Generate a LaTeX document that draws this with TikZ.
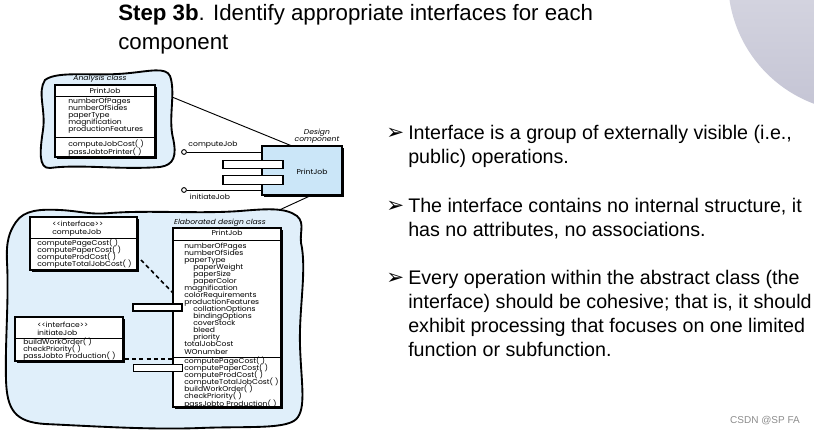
\documentclass[tikz,border=0pt]{standalone}
\usepackage{fontspec}
\setmainfont{Liberation Sans}
\newfontfamily\umlfont[FakeStretch=1.08]{Poppins}
\newfontfamily\markfont{DejaVu Sans}
\usetikzlibrary{shadows}

\definecolor{blobblue}{RGB}{224,239,250}
\definecolor{compblue}{RGB}{203,230,248}
\definecolor{discgray}{RGB}{196,196,212}
\newcommand{\umlsize}{\umlfont\fontsize{5.3}{5.3}\selectfont\lineskiplimit=-6pt}

\tikzset{
  blob/.style={draw=black, line width=1.4pt, fill=blobblue},
  umlbox/.style={draw=black, line width=0.9pt, fill=white, inner sep=0pt, outer sep=0pt,
    drop shadow={opacity=1, fill=black, shadow xshift=1.3pt, shadow yshift=-1.3pt}},
  port/.style={draw=black, line width=1pt, fill=white, inner sep=0pt,
    minimum width=45pt, minimum height=6.4pt},
  uml/.style={font=\umlsize, inner sep=0pt},
  umlnote/.style={font=\umlsize\itshape, inner sep=0pt},
  lolli/.style={circle, draw=black, line width=0.7pt, fill=white, inner sep=0pt, minimum size=3.6pt},
  link/.style={line width=0.7pt},
  dashlink/.style={line width=1.2pt, dash pattern=on 3pt off 2.4pt},
  point/.style={font=\fontsize{14.75}{18}\selectfont, inner sep=0pt, anchor=base west, align=left},
  pointmark/.style={font=\markfont\fontsize{16}{16}\selectfont, inner sep=0pt, anchor=base west}
}

\begin{document}
\begin{tikzpicture}[x=0.75pt,y=-0.75pt]
\useasboundingbox (0,0) rectangle (814,435);

%Shape: Circle (corner disc)
\shade[top color=discgray!40, bottom color=discgray] (860,-20) circle (132);

% Text Node
\node[inner sep=0pt, anchor=base west, align=left, font=\fontsize{16.7}{21.75}\selectfont] (title) at (118,50)
  {\textbf{Step 3b}. Identify appropriate interfaces for each\\component};

%Shape: Polygon Curved (analysis blob)
\draw[blob] (45,80) .. controls (58,70) and (95,77) .. (130,73) .. controls (150,71) and (166,67) .. (170,76)
  .. controls (176,92) and (168,118) .. (173,138) .. controls (177,156) and (174,165) .. (160,167)
  .. controls (120,170) and (80,164) .. (50,168) .. controls (38,169) and (40,150) .. (43,130)
  .. controls (46,110) and (37,92) .. (45,80) -- cycle;

% Text Node
\node[umlnote] (anaLabel) at (100,79) {Analysis class};
\node[umlbox, minimum width=75pt, minimum height=54pt] (anaBox) at (105,121) {};
\draw[line width=0.6pt] (55,96) -- (155,96);
\draw[line width=0.6pt] (55,137) -- (155,137);
\node[uml] (anaName) at (105,91) {PrintJob};
\node[uml, anchor=base west, align=left] (anaAttr) at (68,132)
  {numberOfPages\\numberOfSides\\paperType\\magnification\\productionFeatures};
\node[uml, anchor=base west, align=left] (anaOps) at (68,154)
  {computeJobCost( )\\passJobtoPrinter( )};

%Shape: Rectangle (design component)
\node[umlbox, fill=compblue, minimum width=60pt, minimum height=36.75pt] (compBox) at (302,170.5) {};
\node[port] (compPortA) at (253,164.5) {};
\node[port] (compPortB) at (253,180) {};
\node[uml] (compName) at (312,172) {PrintJob};
\node[umlnote, align=center, anchor=base] (compLabel) at (317,142) {Design\\component};

% Lollipops
\node[lolli] (cjBall) at (184,152) {};
\node[lolli] (ijBall) at (184,190) {};
\draw[link] (cjBall) -- (compBox.west |- cjBall);
\draw[link] (ijBall) -- (compBox.west |- ijBall);
\node[uml] (cjLabel) at (213,145) {computeJob};
\node[uml] (ijLabel) at (210,197) {initiateJob};

%Straight Lines
\coordinate (anaTip) at (172,97);
\coordinate (compTop) at (292,146);
\draw[link] (anaTip) -- (compTop);
\coordinate (compFoot) at (312,195);
\coordinate (elabTop) at (275,212);
\draw[link] (compFoot) -- (elabTop);

%Shape: Polygon Curved (elaborated blob)
\draw[blob] (16,222) .. controls (24,210) and (40,209) .. (60,210) .. controls (80,211) and (90,215) .. (110,213)
  .. controls (150,210) and (200,214) .. (240,211) .. controls (265,209) and (285,207) .. (297,216)
  .. controls (306,224) and (298,234) .. (302,248) .. controls (306,275) and (299,310) .. (300,345)
  .. controls (301,380) and (306,405) .. (298,417) .. controls (290,430) and (250,426) .. (200,428)
  .. controls (150,430) and (90,426) .. (45,424) .. controls (15,422) and (7,410) .. (6,380)
  .. controls (5,340) and (9,300) .. (7,262) .. controls (6,242) and (9,232) .. (16,222) -- cycle;

% Text Node
\node[umlnote] (elabLabel) at (220,223) {Elaborated design class};

% computeJob interface
\node[umlbox, minimum width=80.25pt, minimum height=39.75pt] (cjBox) at (83.5,243.5) {};
\draw[line width=0.6pt] (30,238) -- (137,238);
\node[uml, anchor=base west, align=left] (cjHead) at (52,234) {<<interface>>\\computeJob};
\node[uml, anchor=base west, align=left] (cjOps) at (37,266.5)
  {computePageCost( )\\computePaperCost( )\\computeProdCost( )\\computeTotalJobCost( )};

% initiateJob interface
\node[umlbox, minimum width=81pt, minimum height=33pt] (ijBox) at (69,339) {};
\draw[line width=0.6pt] (15,338) -- (123,338);
\node[uml, anchor=base west, align=left] (ijHead) at (37,335) {<<interface>>\\initiateJob};
\node[uml, anchor=base west, align=left] (ijOps) at (23,358.5)
  {buildWorkOrder( )\\checkPriority( )\\passJobto Production( )};

% Elaborated design class
\node[umlbox, minimum width=81pt, minimum height=134.25pt] (elabBox) at (227,317.5) {};
\draw[line width=0.6pt] (173,240) -- (281,240);
\draw[line width=0.6pt] (173,357) -- (281,357);
\node[uml] (elabName) at (227,233) {PrintJob};
\node[uml, anchor=base west, align=left] (elabAttr) at (184,354)
  {numberOfPages\\numberOfSides\\paperType\\\hspace*{6.75pt}paperWeight\\\hspace*{6.75pt}paperSize\\\hspace*{6.75pt}paperColor\\
   magnification\\colorRequirements\\productionFeatures\\\hspace*{6.75pt}collationOptions\\\hspace*{6.75pt}bindingOptions\\
   \hspace*{6.75pt}coverStock\\\hspace*{6.75pt}bleed\\\hspace*{6.75pt}priority\\totalJobCost\\WOnumber};
\node[uml, anchor=base west, align=left] (elabOps) at (184,406)
  {computePageCost( )\\computePaperCost( )\\computeProdCost( )\\computeTotalJobCost( )\\buildWorkOrder( )\\checkPriority( )\\passJobto Production( )};
\node[port, minimum width=36.75pt, minimum height=5.4pt] (elabPortA) at (157.5,307.5) {};
\node[port, minimum width=36.75pt, minimum height=5.4pt] (elabPortB) at (158,368) {};

% Dashed realisations
\coordinate (cjCorner) at (141,260);
\coordinate (elabDashA) at (173,293);
\draw[dashlink] (cjCorner) -- (elabDashA);
\coordinate (ijDash) at (125,359);
\coordinate (elabDashB) at (173,359);
\draw[dashlink] (ijDash) -- (elabDashB);

% Bullet points
\node[pointmark] (markA) at (386,139) {➢};
\node[point] (pointA) at (408,163) {Interface is a group of externally visible (i.e.,\\public) operations.};
\node[pointmark] (markB) at (386,212) {➢};
\node[point] (pointB) at (408,236) {The interface contains no internal structure, it\\has no attributes, no associations.};
\node[pointmark] (markC) at (386,284) {➢};
\node[point] (pointC) at (408,356) {Every operation within the abstract class (the\\interface) should be cohesive; that is, it should\\exhibit processing that focuses on one limited\\function or subfunction.};

% Text Node
\node[inner sep=0pt, text=black!45, font=\fontsize{7.5}{9}\selectfont] (mark) at (765,421) {CSDN @SP FA};
\end{tikzpicture}
\end{document}
